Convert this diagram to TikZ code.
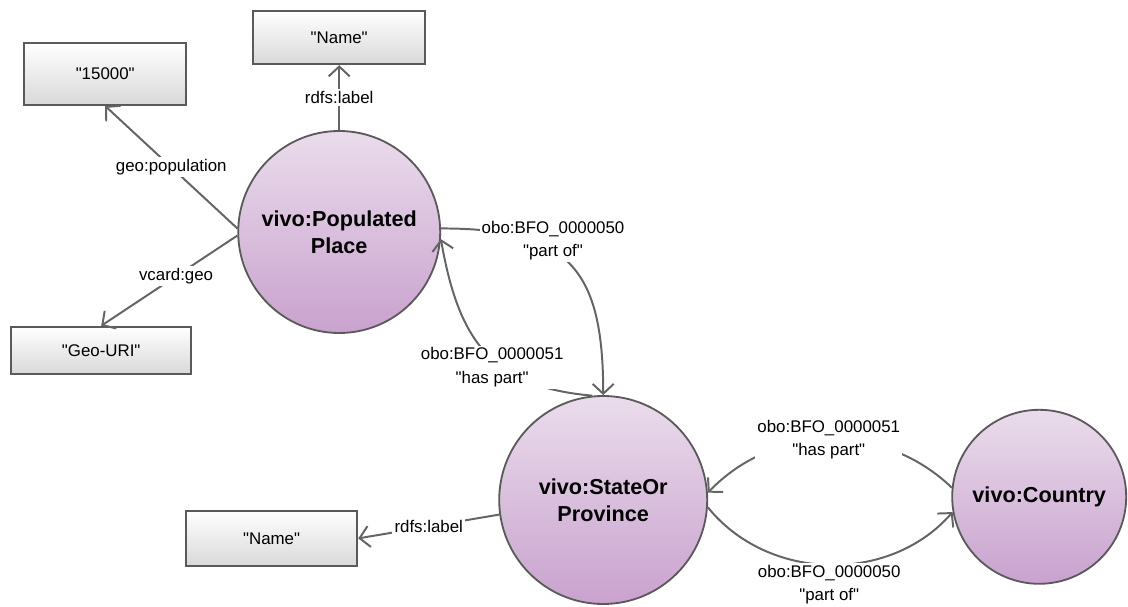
\documentclass[tikz,border=0pt]{standalone}
\usepackage{fontspec}
\setmainfont{Liberation Sans}
\usetikzlibrary{arrows.meta}

\definecolor{edgegray}{RGB}{100,100,100}
\definecolor{rimgray}{RGB}{90,90,90}
\definecolor{lavtop}{RGB}{234,220,236}
\definecolor{lavbot}{RGB}{201,162,206}
\newcommand{\qt}[1]{\textquotedbl#1\textquotedbl}

\tikzset{
  class/.style={circle, draw=rimgray, line width=1.3pt, top color=lavtop, bottom color=lavbot,
    align=center, font=\fontsize{15.4}{19}\selectfont\bfseries},
  literal/.style={rectangle, draw=rimgray, line width=1.4pt, top color=white, bottom color=black!15,
    font=\fontsize{12}{14}\selectfont},
  rel/.style={draw=edgegray, line width=1.4pt, -{Straight Barb[length=7pt,width=15pt]}},
  lbl/.style={fill=white, inner sep=1.5pt, align=center, font=\fontsize{12}{16.5}\selectfont}
}

\begin{document}
\begin{tikzpicture}
  \useasboundingbox (0,0) rectangle (28.2,15.15);
  % classes
  \node[class, minimum size=5.05cm] (pp) at (8.48,9.35) {vivo:Populated\\Place};
  \node[class, minimum size=5.2cm] (sp) at (15.08,2.65) {vivo:StateOr\\Province};
  \node[class, minimum size=4.35cm] (country) at (25.98,2.73) {vivo:Country};
  % literals
  \node[literal, minimum width=4.05cm, minimum height=1.55cm] (pop) at (2.63,13.3) {\qt{15000}};
  \node[literal, minimum width=4.3cm, minimum height=1.33cm] (ppname) at (8.48,14.21) {\qt{Name}};
  \node[literal, minimum width=4.5cm, minimum height=1.18cm] (geouri) at (2.53,6.39) {\qt{Geo-URI}};
  \node[literal, minimum width=4.28cm, minimum height=1.38cm] (spname) at (6.79,1.69) {\qt{Name}};
  % properties
  \draw[rel] (pp.178) -- node[lbl] {geo:population} (pop.south);
  \draw[rel] (pp.182) -- node[lbl, pos=0.45] {vcard:geo} (geouri.north);
  \draw[rel] (pp.north) -- node[lbl] {rdfs:label} (ppname.south);
  \draw[rel] (sp.188) -- node[lbl] {rdfs:label} (spname.east);
  \draw[rel] (pp.2) to[out=0, in=90, looseness=1.4]
    node[lbl, pos=0.4, yshift=0.25cm] {obo:BFO\_0000050\\\qt{part of}} (sp.north);
  \draw[rel] (sp.96) to[out=175, in=-80, looseness=1.2]
    node[lbl, pos=0.45, yshift=-0.2cm] {obo:BFO\_0000051\\\qt{has part}} (pp.-4);
  \draw[rel] (country.174) to[bend right=45]
    node[lbl] {obo:BFO\_0000051\\\qt{has part}} (sp.4);
  \draw[rel] (sp.-4) to[bend right=50]
    node[lbl, yshift=-0.5cm] {obo:BFO\_0000050\\\qt{part of}} (country.-170);
\end{tikzpicture}
\end{document}
